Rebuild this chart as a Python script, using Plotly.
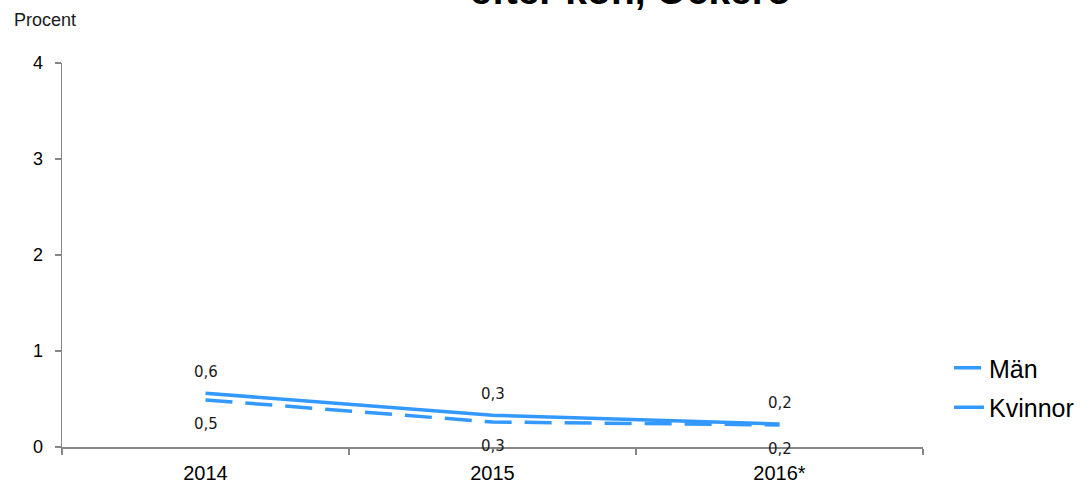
import plotly.graph_objects as go

years = ["2014", "2015", "2016*"]
man = [0.49, 0.26, 0.23]
kvinnor = [0.56, 0.33, 0.24]
series_names = ["Män", "Kvinnor"]
y_ticks = [0, 1, 2, 3, 4]

BLUE = "#3399FF"
AXIS = "#868686"


def fmt(v):
    return f"{v:.1f}".replace(".", ",")


fig = go.Figure()
fig.add_trace(go.Scatter(
    x=years, y=man, mode="lines", name=series_names[0], legendgroup="a",
    line=dict(color=BLUE, width=3.5, dash="27px,13px"),
))
fig.add_trace(go.Scatter(
    x=years, y=kvinnor, mode="lines", name=series_names[1], legendgroup="b",
    line=dict(color=BLUE, width=3.5),
))

label_font = dict(family="DejaVu Sans", size=15, color="#1a1a1a")
annotations = []
for i, yv in enumerate(kvinnor):
    annotations.append(dict(x=i, y=yv, xref="x", yref="y", text=fmt(yv),
                            showarrow=False, yshift=21, font=label_font))
for i, yv in enumerate(man):
    annotations.append(dict(x=i, y=yv, xref="x", yref="y", text=fmt(yv),
                            showarrow=False, yshift=-24, font=label_font))

annotations.append(dict(text="Procent", xref="paper", yref="paper",
                        x=-50 / 861, y=(447 - 19.5) / 384, xanchor="left", yanchor="middle",
                        showarrow=False,
                        font=dict(family="Liberation Sans", size=18, color="#1a1a1a")))
annotations.append(dict(text="<b>efter kön, Öckerö</b>", xref="paper", yref="paper",
                        x=(630 - 62) / 861, y=(447 - 14) / 384, xanchor="center", yanchor="bottom",
                        showarrow=False,
                        font=dict(family="Liberation Sans", size=39, color="#000000")))

fig.update_layout(
    width=1091, height=485,
    margin=dict(l=62, r=168, t=63, b=38, autoexpand=False),
    paper_bgcolor="white", plot_bgcolor="white",
    showlegend=True,
    legend=dict(xref="container", yref="container", x=949 / 1091, y=1 - 345 / 485,
                xanchor="left", yanchor="top",
                font=dict(family="Liberation Sans", size=25, color="#000000"),
                tracegroupgap=4, bgcolor="rgba(0,0,0,0)"),
    annotations=annotations,
)
fig.update_xaxes(
    type="category", tickson="boundaries", range=[-0.5, 2.5], automargin=False,
    showline=True, linecolor=AXIS, linewidth=1.5,
    ticks="outside", ticklen=6, tickcolor=AXIS, tickwidth=1.5,
    showgrid=False, zeroline=False,
    tickfont=dict(family="Liberation Sans", size=20, color="#000000"),
    ticklabelstandoff=7,
)
fig.update_yaxes(
    range=[0, 4], tickvals=y_ticks, ticktext=[str(t) for t in y_ticks], automargin=False,
    showline=True, linecolor=AXIS, linewidth=1.5,
    ticks="outside", ticklen=6, tickcolor=AXIS, tickwidth=1.5,
    showgrid=False, zeroline=False,
    tickfont=dict(family="Liberation Sans", size=18, color="#000000"),
    ticklabelstandoff=8,
)

fig.write_html("out.html",
               config={"displayModeBar": False, "staticPlot": True},
               post_script="document.body.style.margin='0';document.body.style.overflow='hidden';")
